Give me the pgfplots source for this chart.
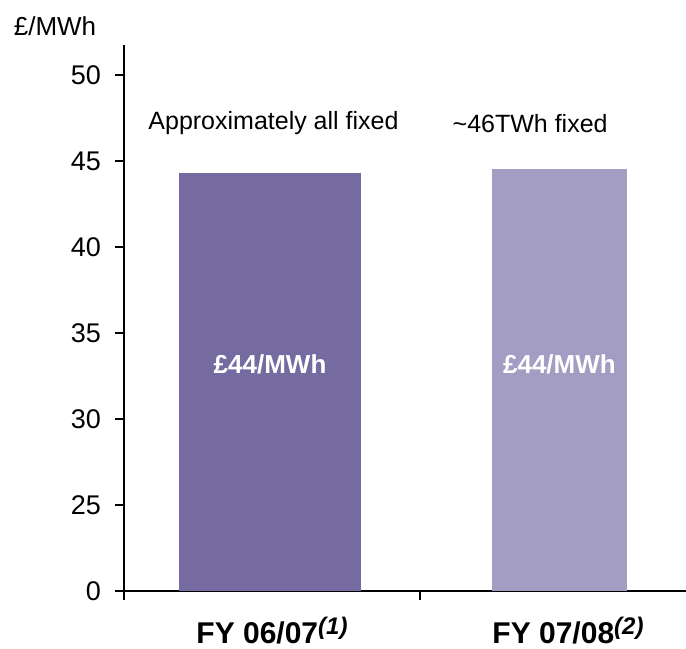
\documentclass[border=0pt]{standalone}
\usepackage{fontspec}
\setmainfont{Liberation Sans}
\usepackage{pgfplots}
\pgfplotsset{compat=1.18}
\definecolor{barA}{RGB}{118,107,161}
\definecolor{barB}{RGB}{163,157,196}
\newcommand{\reg}{\fontsize{25bp}{30bp}\selectfont}
\newcommand{\tck}{\fontsize{27bp}{30bp}\selectfont}
\newcommand{\bfl}{\fontsize{30bp}{34bp}\selectfont\bfseries}
\newcommand{\bin}{\fontsize{26bp}{31bp}\selectfont\bfseries}
\newcommand{\sups}[1]{\raisebox{9bp}{\fontsize{24bp}{24bp}\selectfont\bfseries\itshape #1}}
\begin{document}
\begin{tikzpicture}
\useasboundingbox (-124bp,-58bp) rectangle (562bp,591bp);
\begin{axis}[
  name=ax, at={(0,0)}, anchor=south west,
  scale only axis, width=562bp, height=546bp,
  xmin=0, xmax=1.8986, ymin=20, ymax=51.74,
  axis x line=bottom, axis y line=left,
  axis line style={-, line width=1.2bp, black},
  tick align=outside, major tick length=9bp,
  tick style={line width=1.2bp, black},
  xtick={0,1,2}, xticklabels={},
  ytick={20,25,30,35,40,45,50},
  yticklabels={0,25,30,35,40,45,50},
  /pgf/number format/assume math mode=true,
  yticklabel style={font=\tck, inner sep=0pt, xshift=-14bp},
  extra x ticks={0.5,1.5},
  extra x tick labels={{FY 06/07\sups{(1)}},{FY 07/08\sups{(2)}}},
  extra x tick style={major tick length=0pt, tick label style={font=\bfl, anchor=base, inner sep=0pt, yshift=-52bp}},
]
\addplot[ybar, bar shift=0pt, bar width=0.615, fill=barA, draw=none] coordinates {(0.4935,44.31)};
\addplot[ybar, bar shift=0pt, bar width=0.456, fill=barB, draw=none] coordinates {(1.471,44.54)};
\node[white, font=\bin] at (axis cs:0.4935,33.15) {£44/MWh};
\node[white, font=\bin] at (axis cs:1.471,33.15) {£44/MWh};
\node[font=\reg] at (axis cs:0.505,47.2) {Approximately all fixed};
\node[font=\reg] at (axis cs:1.372,47.2) {\textasciitilde 46TWh fixed};
\end{axis}
\node[font=\fontsize{26bp}{30bp}\selectfont, anchor=base, inner sep=0pt] at ([xshift=-69bp, yshift=9bp]ax.north west) {£/MWh};
\end{tikzpicture}
\end{document}
